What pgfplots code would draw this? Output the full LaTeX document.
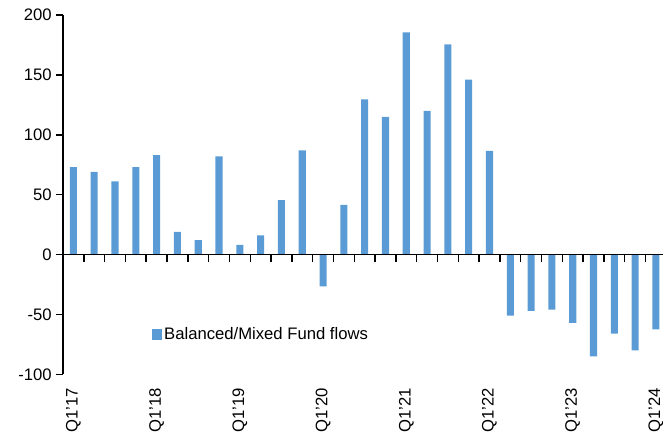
\documentclass[border=0pt]{standalone}
\usepackage{fontspec}
\setmainfont{Liberation Sans}
\usepackage{pgfplots}
\pgfplotsset{compat=1.18}
\definecolor{barblue}{HTML}{5B9BD5}
\begin{document}
\begin{tikzpicture}
\begin{axis}[
  name=a,
  scale only axis,
  width=450pt, height=269.5pt,
  xmin=-0.5, xmax=28.34,
  ymin=-100, ymax=200,
  axis x line*=bottom, axis y line*=left,
  x axis line style={draw=none},
  y axis line style={black, line width=1.1pt},
  ytick={-100,-50,0,50,100,150,200},
  xtick={0,4,8,12,16,20,24,28},
  xticklabels={Q1'17,Q1'18,Q1'19,Q1'20,Q1'21,Q1'22,Q1'23,Q1'24},
  x tick label style={rotate=90, anchor=east, font=\fontsize{12.5}{14}\selectfont, xshift=-2pt},
  y tick label style={font=\fontsize{12.5}{14}\selectfont},
  /pgf/number format/assume math mode=true,
  x tick style={draw=none},
  y tick style={black, line width=1.1pt},
  tick align=outside,
  major tick length=5pt,
  legend style={draw=none, fill=none, at={(axis cs:3.55,-67)}, anchor=west, font=\fontsize{12.5}{14}\selectfont},
  legend image code/.code={\fill[barblue] (0pt,-4pt) rectangle (7.5pt,4pt);},
  clip=false,
]
\addplot[ybar, bar width=0.34, fill=barblue, draw=none] coordinates {
(0,73) (1,69) (2,61) (3,73) (4,83) (5,19) (6,12) (7,82) (8,8) (9,16)
(10,45.5) (11,87) (12,-26.5) (13,41.5) (14,129.5) (15,115) (16,185.5) (17,120)
(18,175.5) (19,146) (20,86.5) (21,-51) (22,-47) (23,-46) (24,-57) (25,-85)
(26,-66) (27,-80) (28,-62.5)
};
\addlegendentry{Balanced/Mixed Fund flows}
\end{axis}
\begin{axis}[
  at={(a.north west)}, anchor=north west,
  scale only axis,
  width=450pt, height=179.667pt,
  xmin=-0.5, xmax=28.34,
  ymin=0, ymax=200,
  axis x line=bottom, axis y line=none,
  x axis line style={black, line width=1.1pt, -},
  xtick={0.5,1.5,...,27.5},
  xticklabels={},
  x tick style={black, line width=1.1pt},
  tick align=outside,
  major tick length=5.5pt,
]
\end{axis}
\pgfresetboundingbox
\path[use as bounding box] ([xshift=-47.25pt, yshift=-44.25pt]a.south west) rectangle ([yshift=11.25pt]a.north east);
\end{tikzpicture}
\end{document}
